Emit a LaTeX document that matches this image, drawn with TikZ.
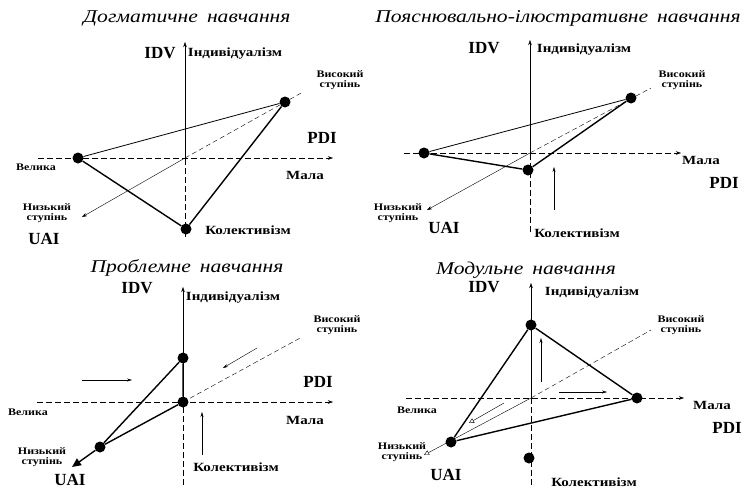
\documentclass[tikz,border=0pt]{standalone}
\usepackage{fontspec}
\setmainfont{Liberation Serif}
\newfontfamily\titlefont[FakeStretch=1.2]{Liberation Serif}
\newfontfamily\lblfont[FakeStretch=1.2]{Liberation Serif}
\usetikzlibrary{arrows.meta, positioning}
\tikzset{
  axis/.style={thin, -{Stealth[length=5pt,width=3.5pt]}},
  back/.style={thin, dash pattern=on 6pt off 3pt},
  diag/.style={thin, dash pattern=on 5pt off 3pt},
  dot/.style={circle, fill=black, inner sep=0pt, minimum size=11pt},
  side/.style={line width=1.4pt},
  thinside/.style={line width=0.8pt},
  hint/.style={thin, -{Stealth[length=5pt,width=3pt]}},
  ttl/.style={font=\titlefont\itshape\fontsize{18}{18}\selectfont},
  big/.style={font=\bfseries\fontsize{17}{17}\selectfont},
  lbl/.style={font=\lblfont\bfseries\fontsize{12.5}{12.5}\selectfont},
  sml/.style={font=\lblfont\bfseries\fontsize{10}{10}\selectfont, align=center},
}

\begin{document}
\begin{tikzpicture}[x=1pt, y=-1pt]
    \useasboundingbox (0,0) rectangle (747,490);

    % Dogmatic learning (top left)
    \coordinate (d-o) at (185,158);
    \coordinate (d-top) at (185,42);
    \coordinate (d-bot) at (185,237);
    \coordinate (d-left) at (38,158);
    \coordinate (d-right) at (333,158);
    \coordinate (d-low) at (82,217);
    \coordinate (d-high) at (303,92);

    \draw[axis] (d-o) -- (d-top);
    \draw[back] (d-bot) -- (d-o);
    \draw[axis, back] (d-left) -- (d-right);
    \draw[axis] (d-o) -- (d-low);
    \draw[diag] (d-o) -- (d-high);

    \node[dot] (d-vel) at (78,158) {};
    \node[dot] (d-vys) at (285,102) {};
    \node[dot] (d-kol) at (186,229) {};
    \draw[thinside] (d-vel) -- (d-vys);
    \draw[side] (d-vel) -- (d-kol) -- (d-vys);

    \node[ttl] (d-ttl) at (187,18) {Догматичне\enspace навчання};
    \node[big] (d-idv) at (160,53) {IDV};
    \node[lbl] (d-ind) at (235,54) {Індивідуалізм};
    \node[sml] (d-hi) at (340,80) {Високий\\ступінь};
    \node[big] (d-pdi) at (322,138) {PDI};
    \node[sml] (d-velt) at (36,167) {Велика};
    \node[lbl] (d-mal) at (305,175) {Мала};
    \node[sml] (d-lo) at (47,213) {Низький\\ступінь};
    \node[big] (d-uai) at (44,239) {UAI};
    \node[lbl] (d-kolt) at (248,230) {Колективізм};

    % Explanatory-illustrative learning (top right)
    \coordinate (p-o) at (530,153);
    \coordinate (p-top) at (530,40);
    \coordinate (p-bot) at (530,232);
    \coordinate (p-left) at (404,153);
    \coordinate (p-right) at (681,153);
    \coordinate (p-low) at (427,210);
    \coordinate (p-high) at (651,88);

    \draw[axis] (p-o) -- (p-top);
    \draw[back] (p-bot) -- (p-o);
    \draw[axis, back] (p-left) -- (p-right);
    \draw[axis] (p-o) -- (p-low);
    \draw[diag] (p-o) -- (p-high);

    \node[dot] (p-vel) at (424,153) {};
    \node[dot] (p-vys) at (631,98) {};
    \node[dot] (p-kol) at (528,170) {};
    \draw[thinside] (p-vel) -- (p-vys);
    \draw[side] (p-vel) -- (p-kol) -- (p-vys);

    \coordinate (p-a1) at (554,210);
    \coordinate (p-a2) at (554,167);
    \draw[hint] (p-a1) -- (p-a2);

    \node[ttl] (p-ttl) at (558,18) {Пояснювально-ілюстративне\enspace навчання};
    \node[big] (p-idv) at (484,48) {IDV};
    \node[lbl] (p-ind) at (584,50) {Індивідуалізм};
    \node[sml] (p-hi) at (682,80) {Високий\\ступінь};
    \node[lbl] (p-mal) at (701,160) {Мала};
    \node[big] (p-pdi) at (724,183) {PDI};
    \node[sml] (p-lo) at (398,213) {Низький\\ступінь};
    \node[big] (p-uai) at (444,228) {UAI};
    \node[lbl] (p-kolt) at (577,233) {Колективізм};

    % Problem learning (bottom left)
    \coordinate (r-o) at (183,402);
    \coordinate (r-top) at (183,287);
    \coordinate (r-bot) at (183,485);
    \coordinate (r-left) at (37,402);
    \coordinate (r-right) at (333,402);
    \coordinate (r-low) at (72,467);
    \coordinate (r-high) at (302,337);

    \draw[axis] (r-o) -- (r-top);
    \draw[back] (r-bot) -- (r-o);
    \draw[axis, back] (r-left) -- (r-right);
    \draw[diag] (r-o) -- (r-high);

    \node[dot] (r-ind) at (183,358) {};
    \node[dot] (r-cen) at (183,402) {};
    \node[dot] (r-nyz) at (100,447) {};
    \draw[side] (r-nyz) -- (r-ind) -- (r-cen) -- (r-nyz);
    \draw[side, -{Triangle[length=9pt,width=8pt]}] (r-nyz) -- (r-low);

    \coordinate (r-a1) at (82,380);
    \coordinate (r-a2) at (132,380);
    \coordinate (r-b1) at (257,348);
    \coordinate (r-b2) at (223,368);
    \coordinate (r-c1) at (202,455);
    \coordinate (r-c2) at (202,412);
    \draw[hint] (r-a1) -- (r-a2);
    \draw[hint] (r-b1) -- (r-b2);
    \draw[hint] (r-c1) -- (r-c2);

    \node[ttl] (r-ttl) at (187,268) {Проблемне\enspace навчання};
    \node[big] (r-idv) at (137,288) {IDV};
    \node[lbl] (r-indt) at (233,298) {Індивідуалізм};
    \node[sml] (r-hi) at (337,325) {Високий\\ступінь};
    \node[big] (r-pdi) at (318,382) {PDI};
    \node[sml] (r-velt) at (28,412) {Велика};
    \node[lbl] (r-mal) at (305,420) {Мала};
    \node[sml] (r-lo) at (42,457) {Низький\\ступінь};
    \node[big] (r-uai) at (70,480) {UAI};
    \node[lbl] (r-kolt) at (236,467) {Колективізм};

    % Modular learning (bottom right)
    \coordinate (m-o) at (531,398);
    \coordinate (m-top) at (531,283);
    \coordinate (m-bot) at (531,485);
    \coordinate (m-left) at (406,398);
    \coordinate (m-right) at (684,398);
    \coordinate (m-low) at (424,455);
    \coordinate (m-high) at (651,330);

    \draw[axis] (m-o) -- (m-top);
    \draw[back] (m-bot) -- (m-o);
    \draw[axis, back] (m-left) -- (m-right);
    \draw[thin, -{Triangle[open, length=5pt, width=5pt]}] (m-o) -- (m-low);
    \draw[diag] (m-o) -- (m-high);

    \node[dot] (m-ind) at (531,325) {};
    \node[dot] (m-mal) at (637,398) {};
    \node[dot] (m-nyz) at (451,442) {};
    \node[dot] (m-kol) at (529,458) {};
    \draw[side] (m-nyz) -- (m-ind) -- (m-mal) -- (m-nyz);

    \coordinate (m-a1) at (541,382);
    \coordinate (m-a2) at (541,338);
    \coordinate (m-b1) at (559,392);
    \coordinate (m-b2) at (607,392);
    \coordinate (m-c1) at (504,403);
    \coordinate (m-c2) at (469,423);
    \draw[hint] (m-a1) -- (m-a2);
    \draw[hint] (m-b1) -- (m-b2);
    \draw[thin, -{Triangle[open, length=5pt, width=5pt]}] (m-c1) -- (m-c2);

    \node[ttl] (m-ttl) at (526,270) {Модульне\enspace навчання};
    \node[big] (m-idv) at (484,287) {IDV};
    \node[lbl] (m-indt) at (592,293) {Індивідуалізм};
    \node[sml] (m-hi) at (681,325) {Високий\\ступінь};
    \node[lbl] (m-malt) at (712,405) {Мала};
    \node[big] (m-pdi) at (727,428) {PDI};
    \node[sml] (m-velt) at (417,410) {Велика};
    \node[sml] (m-lo) at (402,452) {Низький\\ступінь};
    \node[big] (m-uai) at (446,475) {UAI};
    \node[lbl] (m-kolt) at (594,482) {Колективізм};
\end{tikzpicture}
\end{document}
